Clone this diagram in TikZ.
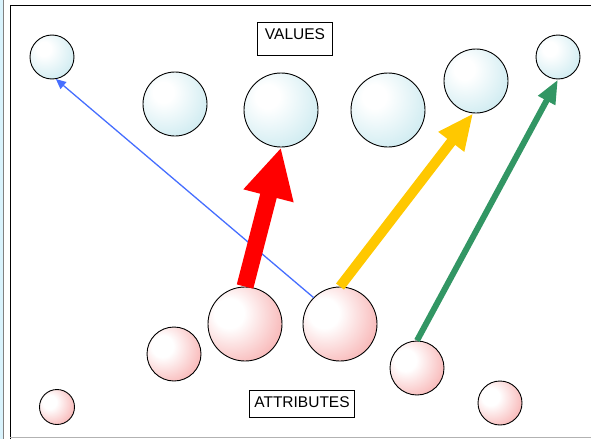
\documentclass[tikz,border=0pt]{standalone}
\usepackage{fontspec}
\setmainfont{Liberation Sans}
\usetikzlibrary{arrows.meta}
\definecolor{valcol}{RGB}{184,226,234}
\definecolor{attcol}{RGB}{244,140,140}
\definecolor{lnkblue}{RGB}{70,110,255}
\definecolor{lnkyel}{RGB}{255,200,0}
\definecolor{lnkgrn}{RGB}{50,150,100}
\pgfdeclareradialshading{valshade}{\pgfpoint{-10bp}{10bp}}{color(0bp)=(white); color(8bp)=(white); color(48bp)=(valcol); color(100bp)=(valcol)}
\pgfdeclareradialshading{attshade}{\pgfpoint{-12bp}{8bp}}{color(0bp)=(white); color(10bp)=(white); color(50bp)=(attcol); color(100bp)=(attcol)}
\tikzset{
  valblk/.style={circle,draw=black,line width=0.9pt,inner sep=0pt,shading=valshade},
  attblk/.style={circle,draw=black,line width=0.9pt,inner sep=0pt,shading=attshade},
  lblbox/.style={draw,line width=1pt,rectangle,font=\fontsize{15.5}{17}\selectfont,text height=10.5pt,inner ysep=6pt},
  blarr/.style={-{Triangle[width=9pt,length=10pt]},lnkblue,line width=1.3pt},
  rdarr/.style={-{Triangle[width=48pt,length=50pt]},red,line width=17pt},
  ylarr/.style={-{Triangle[width=30pt,length=36pt]},lnkyel,line width=10pt},
  grarr/.style={-{Triangle[width=18pt,length=24pt]},lnkgrn,line width=6pt}
}

\begin{document}
\begin{tikzpicture}[x=1pt,y=-1pt]
  \useasboundingbox (0,0) rectangle (591,439);
  % frame
  \fill[cyan!15] (0,0) rectangle (3,439);
  \draw[gray] (3,0) -- (3,439);
  \draw[thick] (10,439) -- (10,5) -- (591,5);
  \draw[gray!60,line width=1.5pt] (10,437.5) -- (591,437.5);

  % values
  \node[valblk,minimum size=44pt] (v1) at (52,57) {};
  \node[valblk,minimum size=64pt] (v2) at (175,104) {};
  \node[valblk,minimum size=74pt] (v3) at (281,110) {};
  \node[valblk,minimum size=74pt] (v4) at (388,110) {};
  \node[valblk,minimum size=64pt] (v5) at (476,81) {};
  \node[valblk,minimum size=44pt] (v6) at (558,57) {};
  \node[lblbox,text depth=10pt,inner xsep=7pt] (vals) at (295,39) {VALUES};

  % attributes
  \node[attblk,minimum size=35pt] (a1) at (57,407) {};
  \node[attblk,minimum size=54pt] (a2) at (174,354) {};
  \node[attblk,minimum size=74pt] (a3) at (245,324) {};
  \node[attblk,minimum size=74pt] (a4) at (340,324) {};
  \node[attblk,minimum size=54pt] (a5) at (417,368) {};
  \node[attblk,minimum size=44pt] (a6) at (500,403) {};
  \node[lblbox,text depth=4pt,inner xsep=5pt] (atts) at (302,404) {ATTRIBUTES};

  % links
  \draw[blarr] (a4.135) -- (v1.-80);
  \draw[rdarr] (a3.north) -- (v3.south);
  \draw[ylarr] (a4.north) -- (v5.-95);
  \draw[grarr] (a5.north) -- (v6.south);
\end{tikzpicture}
\end{document}
